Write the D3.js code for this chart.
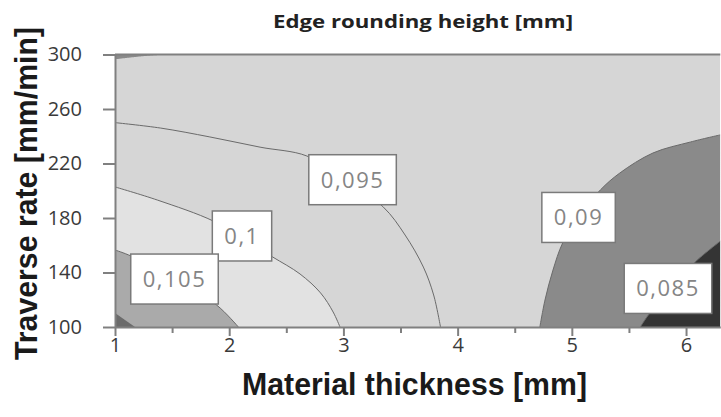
<!DOCTYPE html>
<html>
<head>
<meta charset="utf-8">
<script src="https://cdn.jsdelivr.net/npm/d3@7"></script>
<style>
  html, body { margin: 0; padding: 0; background: #fff; }
  svg { display: block; }
</style>
</head>
<body>
<svg id="chart" width="721" height="417"></svg>
<script>
// Axis ticks
const thicknessTicks = [1, 2, 3, 4, 5, 6];
const thicknessMinorTicks = [1.5, 2.5, 3.5, 4.5, 5.5];
const rateTicks = [100, 140, 180, 220, 260, 300];

// Contour lines of the edge rounding height, as [material thickness, traverse rate] points
const contour085 = [[6.3, 163], [6.08, 147.7], [5.86, 127.2], [5.67, 108.8], [5.6, 100]];
const contour090 = [[6.3, 241], [6.04, 235.8], [5.71, 227.7], [5.42, 213], [5.25, 200.6],
                    [5.07, 182.2], [4.92, 161.7], [4.835, 141.8], [4.765, 119.8], [4.72, 100]];
const contour095 = [[1, 250], [1.4, 246], [1.83, 239.5], [2.27, 232], [2.68, 225.5],
                    [3.01, 208], [3.35, 188], [3.54, 167.5], [3.7, 144], [3.79, 123.5], [3.85, 100]];
const contour100 = [[1, 202.8], [1.37, 193.2], [1.86, 177.8], [2.12, 164.6], [2.38, 151.4],
                    [2.62, 138.9], [2.8, 125], [2.91, 111], [2.97, 100]];
const contour105 = [[1, 156.5], [1.14, 152.1], [1.52, 134.5], [1.89, 116.1], [2.08, 100]];
const contour110 = [[1, 110.3], [1.175, 100]];
// small pocket below 0.09 in the top-left corner
const contour090Top = [[1, 296.5], [1.25, 298.8], [1.45, 300]];

// Contour value labels
const labelPos = [[3.08, 208.1], [2.112, 166.8], [1.521, 135.2], [5.059, 180.4], [5.842, 128.3]];
const labelText = ["0,095", "0,1", "0,105", "0,09", "0,085"];

const svg = d3.select("#chart");
const x = d3.scaleLinear().domain([1, 6.3]).range([115, 720.3]);
const y = d3.scaleLinear().domain([100, 300]).range([327, 54.5]);

svg.append("clipPath").attr("id", "plotClip")
  .append("rect")
  .attr("x", x(1)).attr("y", y(300))
  .attr("width", x(6.3) - x(1)).attr("height", y(100) - y(300));

const plot = svg.append("g").attr("clip-path", "url(#plotClip)");
const curve = d3.line().x(d => x(d[0])).y(d => y(d[1])).curve(d3.curveCatmullRom.alpha(0.5));

// base band 0.09 - 0.1
plot.append("rect")
  .attr("x", x(1)).attr("y", y(300))
  .attr("width", x(6.3) - x(1)).attr("height", y(100) - y(300))
  .attr("fill", "#d6d6d6");

// sample a smooth curve through the contour points
function smooth(points) {
  const p = svg.append("path").attr("d", curve(points)).attr("fill", "none");
  const node = p.node();
  const len = node.getTotalLength();
  const out = [];
  for (let i = 0; i <= 80; i++) {
    const q = node.getPointAtLength(len * i / 80);
    out.push([x.invert(q.x), y.invert(q.y)]);
  }
  p.remove();
  return out;
}

// band closed against a plot corner
function band(points, corner, fill) {
  plot.append("path")
    .attr("d", d3.line().x(d => x(d[0])).y(d => y(d[1]))([corner].concat(smooth(points))) + "Z")
    .attr("fill", fill);
}

band(contour100, [1, 100], "#e2e2e2");
band(contour105, [1, 100], "#aaaaaa");
band(contour110, [1, 100], "#6b6b6b");
band(contour090, [6.3, 100], "#8a8a8a");
band(contour085, [6.3, 100], "#343434");
band(contour090Top, [1, 300], "#8a8a8a");

// contour lines
[contour095, contour100, contour105, contour090, contour085].forEach(c => {
  plot.append("path")
    .attr("d", curve(c))
    .attr("fill", "none")
    .attr("stroke", "#6a6a6a")
    .attr("stroke-width", 1);
});

// contour labels
labelPos.forEach((p, i) => {
  const g = svg.append("g").attr("transform", `translate(${x(p[0])},${y(p[1])})`);
  const rect = g.append("rect");
  const t = g.append("text")
    .attr("text-anchor", "middle")
    .attr("dy", "0.36em")
    .attr("font-family", "'Open Sans', sans-serif")
    .attr("font-size", 22)
    .attr("letter-spacing", 1.5)
    .attr("fill", "#858585")
    .text(labelText[i]);
  const w = t.node().getBBox().width + 24;
  rect.attr("x", -w / 2).attr("y", -25).attr("width", w).attr("height", 50)
    .attr("fill", "#fff").attr("stroke", "#7a7a7a").attr("stroke-width", 1.5);
});

// axes
const axisColor = "#808080";
const tickFont = "'Open Sans', sans-serif";

const yAxis = svg.append("g").attr("transform", `translate(${x(1)},0)`)
  .call(d3.axisLeft(y).tickValues(rateTicks).tickSize(12).tickSizeOuter(0).tickPadding(21)
    .tickFormat(d3.format("d")));
const xAxis = svg.append("g").attr("transform", `translate(0,${y(100)})`)
  .call(d3.axisBottom(x).tickValues(thicknessTicks).tickSize(9).tickSizeOuter(0).tickPadding(2)
    .tickFormat(d3.format("d")));
const xMinor = svg.append("g").attr("transform", `translate(0,${y(100)})`)
  .call(d3.axisBottom(x).tickValues(thicknessMinorTicks).tickSize(6).tickSizeOuter(0).tickFormat(""));
xMinor.select(".domain").remove();

[yAxis, xAxis, xMinor].forEach(a => {
  a.selectAll(".domain, .tick line").attr("stroke", axisColor).attr("stroke-width", 2);
  a.selectAll("text").attr("font-family", tickFont).attr("font-size", 20).attr("fill", "#3a3a3a");
});

// top frame
svg.append("line")
  .attr("x1", x(1)).attr("x2", x(6.3))
  .attr("y1", y(300)).attr("y2", y(300))
  .attr("stroke", axisColor).attr("stroke-width", 2);

// titles
svg.append("text")
  .attr("x", 423).attr("y", 27.5)
  .attr("text-anchor", "middle")
  .attr("font-family", "'Open Sans', sans-serif")
  .attr("font-weight", "bold")
  .attr("font-size", 17)
  .attr("textLength", 300).attr("lengthAdjust", "spacingAndGlyphs")
  .attr("fill", "#222")
  .text("Edge rounding height [mm]");

svg.append("text")
  .attr("x", 414.5).attr("y", 394.5)
  .attr("text-anchor", "middle")
  .attr("font-family", "'Liberation Sans', Arial, sans-serif")
  .attr("font-weight", "bold")
  .attr("font-size", 32)
  .attr("textLength", 345).attr("lengthAdjust", "spacingAndGlyphs")
  .attr("fill", "#1a1a1a")
  .text("Material thickness [mm]");

svg.append("text")
  .attr("transform", "translate(37,193.5) rotate(-90)")
  .attr("text-anchor", "middle")
  .attr("font-family", "'Liberation Sans', Arial, sans-serif")
  .attr("font-weight", "bold")
  .attr("font-size", 32)
  .attr("textLength", 333).attr("lengthAdjust", "spacingAndGlyphs")
  .attr("fill", "#1a1a1a")
  .text("Traverse rate [mm/min]");
</script>
</body>
</html>
